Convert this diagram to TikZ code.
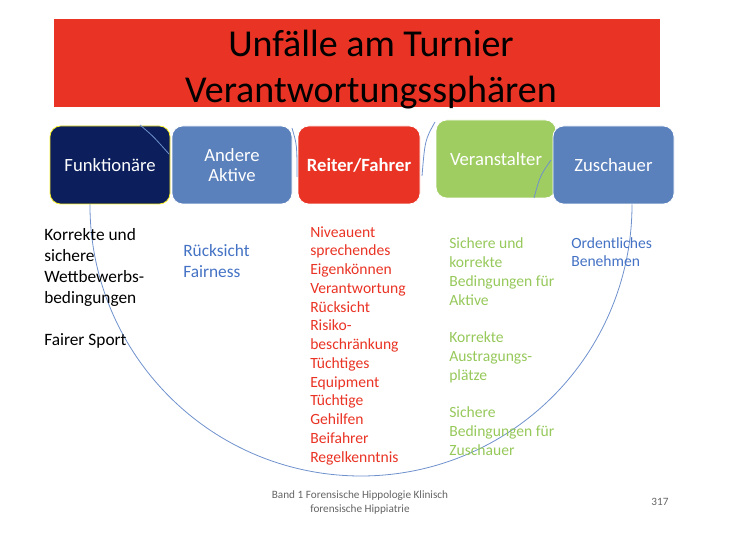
\documentclass[tikz,border=0pt]{standalone}
\usepackage{fontspec}
\setmainfont{Carlito}
\usepackage{xcolor}
\usepackage{tikz}
\usetikzlibrary{calc,positioning}
\definecolor{turnierRed}{RGB}{233,51,36}
\definecolor{turnierNavy}{RGB}{12,31,92}
\definecolor{turnierBlue}{RGB}{91,129,188}
\definecolor{turnierGreen}{RGB}{160,205,98}
\definecolor{turnierYellow}{RGB}{250,240,40}
\definecolor{textGreen}{RGB}{150,200,90}
\definecolor{textBlue}{RGB}{68,114,196}
\definecolor{arcBlue}{RGB}{110,145,205}
\definecolor{footGray}{RGB}{100,100,100}
\tikzset{
  sphere/.style={rounded corners=8pt, minimum width=90pt, minimum height=58.5pt,
    inner sep=2pt, text=white, align=center, font=\fontsize{14}{15}\selectfont,
    draw=white, line width=0.6pt},
  duty/.style={anchor=base west, align=left, inner sep=0pt,
    font=\fontsize{11.7}{14.06}\selectfont},
  arcline/.style={arcBlue, line width=0.6pt}
}

\begin{document}
\begin{tikzpicture}[x=0.75pt,y=-0.75pt]
\useasboundingbox (0,0) rectangle (745,541);

% header
\fill[turnierRed] (54,19) rectangle (660,107);
\node[font=\fontsize{28.5}{34.5}\selectfont, align=center] (title) at (371,70)
  {Unfälle am Turnier\\Verantwortungssphären};

% the big arc lies behind the boxes
\coordinate (hub) at (361,205);
\draw[arcline] (hub) ++(175:203.25pt) arc[start angle=175, end angle=365, radius=203.25pt];

% spheres
\node[sphere, fill=turnierNavy, draw=turnierYellow] (funk) at (110,165) {Funktionäre};
\node[sphere, fill=turnierBlue] (aktive) at (232,165) {Andere\\Aktive};
\node[sphere, fill=turnierRed, minimum width=91.5pt, font=\fontsize{14}{15}\selectfont\bfseries] (reiter) at (359,165) {Reiter/Fahrer};
\node[sphere, fill=turnierGreen] (veranst) at (496,159) {Veranstalter};
\node[sphere, fill=turnierBlue, minimum width=90.75pt] (zusch) at (613.5,165) {Zuschauer};

% small arc pieces
\draw[arcline] (140,125) .. controls (153,136) .. (169,154);
\draw[arcline] (292,128) .. controls (297,145) .. (297,177);
\draw[arcline] (435,122) .. controls (425,140) .. (422,176);
\draw[arcline] (551,160) .. controls (540,176) .. (534,198);

% duties (placed at the baseline of their last line)
\node[duty, font=\fontsize{13}{15.75}\selectfont] (funkText) at (44,345)
  {Korrekte und\\sichere\\Wettbewerbs-\\bedingungen\\[15.75pt]Fairer Sport};
\node[duty, font=\fontsize{13}{15.75}\selectfont, text=textBlue] (aktiveText) at (183,277)
  {Rücksicht\\Fairness};
\node[duty, text=turnierRed] (reiterText) at (310,462)
  {Niveauent\\sprechendes\\Eigenkönnen\\Verantwortung\\Rücksicht\\Risiko-\\beschränkung\\Tüchtiges\\Equipment\\Tüchtige\\Gehilfen\\Beifahrer\\Regelkenntnis};
\node[duty, text=textGreen] (veranstText) at (449,455)
  {Sichere und\\korrekte\\Bedingungen für\\Aktive\\[14.06pt]Korrekte\\Austragungs-\\plätze\\[14.06pt]Sichere\\Bedingungen für\\Zuschauer};
\node[duty, text=textBlue] (zuschText) at (571,267)
  {Ordentliches\\Benehmen};

% footer
\node[font=\fontsize{8.4}{10.5}\selectfont, text=footGray, align=center] (footer) at (360,503)
  {Band 1 Forensische Hippologie Klinisch\\forensische Hippiatrie};
\node[font=\fontsize{8.4}{10.5}\selectfont, text=footGray] (page) at (660,502) {317};
\end{tikzpicture}
\end{document}
